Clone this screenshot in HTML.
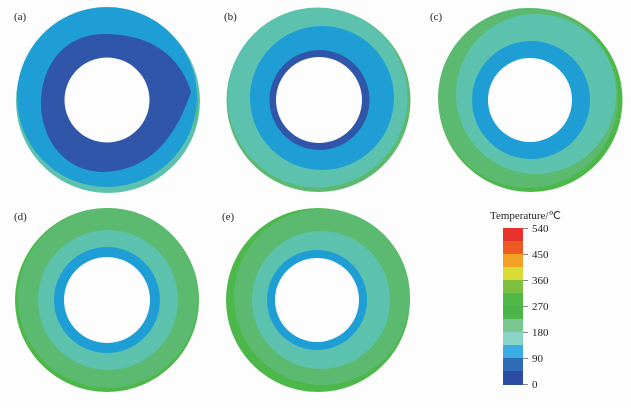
<!DOCTYPE html>
<html><head><style>
body{margin:0;background:#fdfdfd;}
svg{display:block;}
text{font-family:"Liberation Serif",serif;font-size:11px;fill:#222;}
</style></head><body>
<svg width="631" height="408" viewBox="0 0 631 408">
<rect width="631" height="408" fill="#fdfdfd"/>
<!-- (a) -->
<circle cx="108" cy="101" r="92" fill="#5cc2ad"/>
<circle cx="107" cy="97" r="90" fill="#1e9ed4"/>
<path d="M104,34 C150,34 180,55 191,92 C178,130 155,170 104,172 C65,172 41,140 41,103 C41,65 65,34 104,34 Z" fill="#2f56a8"/>
<path d="M198,88 Q200,110 190,145 Q197,120 198,88Z" fill="#4cb84a"/>
<circle cx="107" cy="100" r="42.5" fill="#fdfdfd"/>
<text x="14" y="20">(a)</text>
<!-- (b) -->
<circle cx="318.5" cy="100" r="92" fill="#5bba6f"/>
<circle cx="317.5" cy="97.5" r="90" fill="#5cc2ad"/>
<circle cx="322" cy="98" r="72" fill="#1e9ed4"/>
<circle cx="319.5" cy="100" r="50" fill="#2f56a8"/>
<circle cx="319" cy="100" r="43" fill="#fdfdfd"/>
<text x="224" y="20">(b)</text>
<!-- (c) -->
<circle cx="530.5" cy="100" r="92" fill="#4cb84a"/>
<circle cx="528" cy="98" r="90" fill="#5bba6f"/>
<circle cx="536" cy="94" r="80" fill="#5cc2ad"/>
<circle cx="531" cy="100" r="59" fill="#1e9ed4"/>
<circle cx="530" cy="100" r="42" fill="#fdfdfd"/>
<text x="430" y="20">(c)</text>
<!-- (d) -->
<circle cx="107" cy="300" r="92" fill="#4cb84a"/>
<circle cx="108" cy="298" r="90" fill="#5bba6f"/>
<circle cx="108" cy="300" r="70" fill="#5cc2ad"/>
<circle cx="107" cy="300" r="53" fill="#1e9ed4"/>
<circle cx="107" cy="300" r="43" fill="#fdfdfd"/>
<text x="14" y="220">(d)</text>
<!-- (e) -->
<circle cx="318" cy="300" r="92" fill="#4cb84a"/>
<circle cx="322" cy="297" r="88" fill="#5bba6f"/>
<circle cx="321" cy="300" r="69" fill="#5cc2ad"/>
<circle cx="317" cy="300" r="50" fill="#1e9ed4"/>
<circle cx="317" cy="300" r="42" fill="#fdfdfd"/>
<text x="222" y="220">(e)</text>
<!-- colorbar -->
<text x="490" y="219">Temperature/℃</text>
<g>
<rect x="503" y="228" width="20" height="13" fill="#e8312a"/>
<rect x="503" y="241" width="20" height="13" fill="#ee5a24"/>
<rect x="503" y="254" width="20" height="13" fill="#f2a125"/>
<rect x="503" y="267" width="20" height="13" fill="#d8dc34"/>
<rect x="503" y="280" width="20" height="13" fill="#80c040"/>
<rect x="503" y="293" width="20" height="13" fill="#52b848"/>
<rect x="503" y="306" width="20" height="13" fill="#4bb54a"/>
<rect x="503" y="319" width="20" height="13" fill="#78c890"/>
<rect x="503" y="332" width="20" height="13" fill="#8ad4c8"/>
<rect x="503" y="345" width="20" height="13" fill="#3aaee4"/>
<rect x="503" y="358" width="20" height="13" fill="#2f6cb4"/>
<rect x="503" y="371" width="20" height="14" fill="#2b4ca0"/>
</g>
<g stroke="#888" stroke-width="1">
<line x1="523" y1="228.5" x2="528" y2="228.5"/>
<line x1="523" y1="254.5" x2="528" y2="254.5"/>
<line x1="523" y1="280.5" x2="528" y2="280.5"/>
<line x1="523" y1="306.5" x2="528" y2="306.5"/>
<line x1="523" y1="332.5" x2="528" y2="332.5"/>
<line x1="523" y1="358.5" x2="528" y2="358.5"/>
<line x1="523" y1="384.5" x2="528" y2="384.5"/>
</g>
<text x="532" y="232">540</text>
<text x="532" y="258">450</text>
<text x="532" y="284">360</text>
<text x="532" y="310">270</text>
<text x="532" y="336">180</text>
<text x="532" y="362">90</text>
<text x="532" y="388">0</text>
</svg>
</body></html>
